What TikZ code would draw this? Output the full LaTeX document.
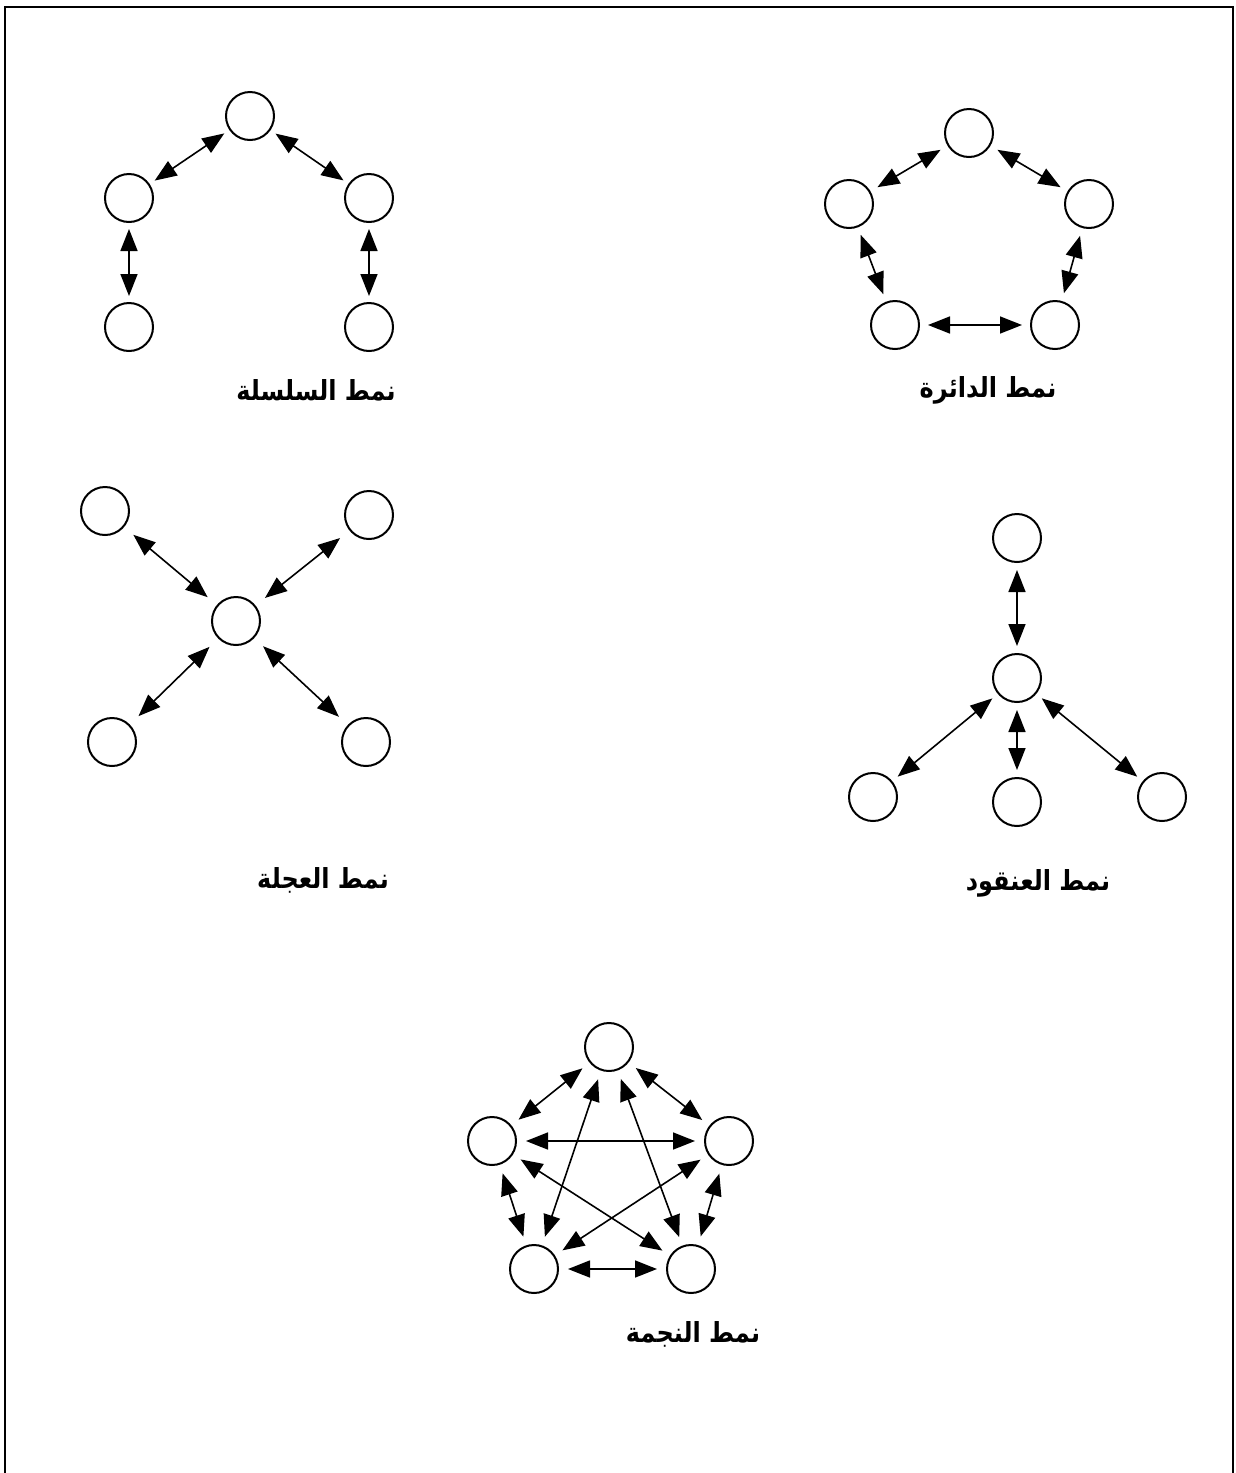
\documentclass[tikz,border=0pt]{standalone}
\usepackage{fontspec}
\newfontfamily\arabicfont[Script=Arabic]{DejaVu Sans}
\TeXXeTstate=1
\usetikzlibrary{arrows.meta}
\begin{document}
\begin{tikzpicture}[x=1pt,y=-1pt,
  nd/.style={circle,draw,line width=2pt,minimum size=48pt,inner sep=0pt},
  lnk/.style={{Triangle[length=22pt 0 0,width=17pt 0 0]}-{Triangle[length=22pt 0 0,width=17pt 0 0]},line width=1.6pt},
  lbl/.style={font=\arabicfont\bfseries\fontsize{24}{28}\selectfont,inner sep=0pt,yscale=1.15,transform shape}]
\useasboundingbox (0,0) rectangle (1235,1473);
\fill[white] (0,0) rectangle (1235,1473);
\draw[line width=2.5pt] (5,1480) -- (5,7) -- (1233,7) -- (1233,1480);

% chain
\node[nd] (ch1) at (250,116) {};
\node[nd] (ch2) at (129,198) {};
\node[nd] (ch3) at (369,198) {};
\node[nd] (ch4) at (129,327) {};
\node[nd] (ch5) at (369,327) {};
\begin{scope}[lnk,shorten <=6pt,shorten >=6pt]
\draw (ch2) -- (ch1);
\draw (ch1) -- (ch3);
\draw (ch2) -- (ch4);
\draw (ch3) -- (ch5);
\end{scope}
\node[lbl] (lch) at (316,390) {\beginR نمط السلسلة\endR};

% ring
\node[nd] (r1) at (969,133) {};
\node[nd] (r2) at (849,204) {};
\node[nd] (r3) at (1089,204) {};
\node[nd] (r4) at (895,325) {};
\node[nd] (r5) at (1055,325) {};
\begin{scope}[lnk,shorten <=8pt,shorten >=8pt]
\draw (r2) -- (r1);
\draw (r1) -- (r3);
\draw (r2) -- (r4);
\draw (r3) -- (r5);
\draw (r4) -- (r5);
\end{scope}
\node[lbl] (lr) at (988,390) {\beginR نمط الدائرة\endR};

% wheel
\node[nd] (w1) at (105,511) {};
\node[nd] (w2) at (369,515) {};
\node[nd] (w0) at (236,621) {};
\node[nd] (w3) at (112,742) {};
\node[nd] (w4) at (366,742) {};
\begin{scope}[lnk,shorten <=12pt,shorten >=12pt]
\draw (w1) -- (w0);
\draw (w2) -- (w0);
\draw (w0) -- (w3);
\draw (w0) -- (w4);
\end{scope}
\node[lbl] (lw) at (323,880) {\beginR نمط العجلة\endR};

% cluster
\node[nd] (k1) at (1017,538) {};
\node[nd] (k0) at (1017,678) {};
\node[nd] (k2) at (873,797) {};
\node[nd] (k3) at (1017,802) {};
\node[nd] (k4) at (1162,797) {};
\begin{scope}[lnk,shorten <=7pt,shorten >=7pt]
\draw (k1) -- (k0);
\draw (k0) -- (k2);
\draw (k0) -- (k3);
\draw (k0) -- (k4);
\end{scope}
\node[lbl] (lk) at (1038,883) {\beginR نمط العنقود\endR};

% star
\node[nd] (s1) at (609,1047) {};
\node[nd] (s2) at (492,1141) {};
\node[nd] (s3) at (729,1141) {};
\node[nd] (s4) at (534,1269) {};
\node[nd] (s5) at (691,1269) {};
\begin{scope}[lnk,shorten <=9pt,shorten >=9pt]
\draw (s1) -- (s2);
\draw (s1) -- (s3);
\draw (s2) -- (s3);
\draw (s2) -- (s4);
\draw (s3) -- (s5);
\draw (s4) -- (s5);
\draw (s1) -- (s4);
\draw (s1) -- (s5);
\draw (s2) -- (s5);
\draw (s3) -- (s4);
\end{scope}
\node[lbl] (ls) at (693,1334) {\beginR نمط النجمة\endR};
\end{tikzpicture}
\end{document}
